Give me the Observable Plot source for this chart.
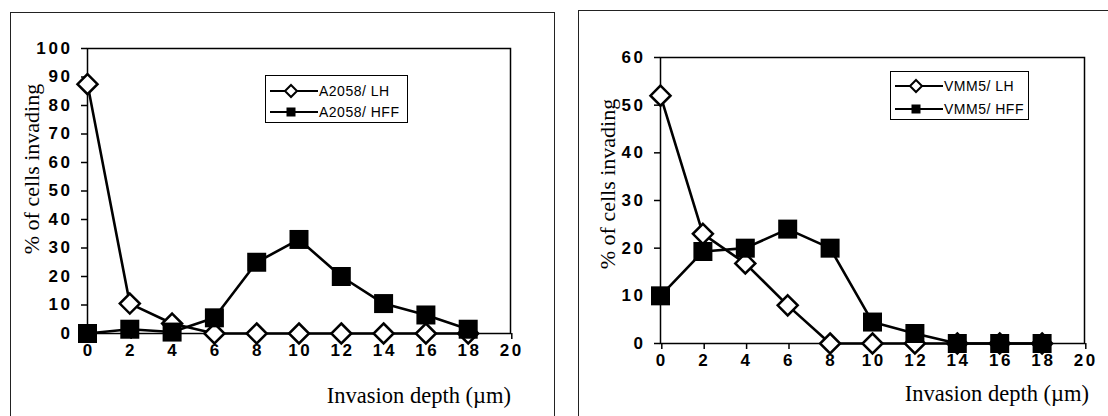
<!DOCTYPE html>
<html>
<head>
<meta charset="utf-8">
<script src="https://cdn.jsdelivr.net/npm/d3@7"></script>
<script src="https://cdn.jsdelivr.net/npm/@observablehq/plot@0.6"></script>
<style>
  html, body { margin: 0; padding: 0; background: #fff; overflow: hidden; }
  #page { position: relative; width: 1108px; height: 416px; overflow: hidden; background: #fff; }
  .box { position: absolute; border: 1.5px solid #222; border-bottom: none; box-sizing: border-box; }
  .holder { position: absolute; }
  .holder svg text { letter-spacing: 2.6px; }
  .ylab { position: absolute; font-family: "Liberation Serif", "Times New Roman", serif; font-size: 22px; color: #000;
          white-space: nowrap; transform: translate(-50%, -50%) rotate(-90deg); }
  .xlab { position: absolute; font-family: "Liberation Serif", "Times New Roman", serif; font-size: 22.5px; color: #000;
          white-space: nowrap; transform: translate(-100%, -50%); }
  .legend { position: absolute; border: 1.2px solid #000; background: #fff; box-sizing: border-box; }
  .lrow { position: absolute; left: 4px; display: flex; align-items: center; transform: translateY(-50%);
          font-family: "Liberation Sans", Arial, sans-serif; font-size: 14px; letter-spacing: 0.5px; color: #000; white-space: nowrap; }
  .lrow svg { display: block; margin-right: 1px; }
</style>
</head>
<body>
<div id="page"></div>
<script>
// ---- data ----
const depth = [0, 2, 4, 6, 8, 10, 12, 14, 16, 18];
const a2058LH  = [87.5, 10.5, 3.5, 0, 0, 0, 0, 0, 0, 0];
const a2058HFF = [0, 1.5, 0.5, 5.5, 25, 33, 20, 10.5, 6.5, 1.5];
const vmm5LH   = [52, 23, 16.8, 8, 0, 0, 0, 0, 0, 0];
const vmm5HFF  = [10, 19.3, 20, 24, 20, 4.5, 2.1, 0, 0, 0];
const xTicks = [0, 2, 4, 6, 8, 10, 12, 14, 16, 18, 20];
const yTicksLeft = [0, 10, 20, 30, 40, 50, 60, 70, 80, 90, 100];
const yTicksRight = [0, 10, 20, 30, 40, 50, 60];
const seriesLeft = ["A2058/ LH", "A2058/ HFF"];
const seriesRight = ["VMM5/ LH", "VMM5/ HFF"];
const xLabel = "Invasion depth (\u00b5m)";
const yLabel = "% of cells invading";

// custom symbols
const diamond = { draw(ctx, size) { const r = Math.sqrt(size / Math.PI); ctx.moveTo(0, -r); ctx.lineTo(r, 0); ctx.lineTo(0, r); ctx.lineTo(-r, 0); ctx.closePath(); } };
const square = { draw(ctx, size) { const r = Math.sqrt(size / Math.PI); ctx.rect(-r, -r, 2 * r, 2 * r); } };

function panel({ LH, HFF, yTicks, yMax, width, height, ml, mr, mt, mb }) {
  const lh = depth.map((d, i) => ({ x: d, y: LH[i] }));
  const hff = depth.map((d, i) => ({ x: d, y: HFF[i] }));
  const font = { fontSize: 17, fontWeight: "bold", fontFamily: "'Liberation Sans', Arial, sans-serif", fill: "#000" };
  return Plot.plot({
    width, height,
    marginLeft: ml, marginRight: mr, marginTop: mt, marginBottom: mb,
    style: { fontFamily: "'Liberation Sans', Arial, sans-serif", color: "#000", background: "transparent", overflow: "visible" },
    x: { domain: [0, 20] },
    y: { domain: [0, yMax] },
    marks: [
      Plot.frame({ stroke: "#000", strokeWidth: 1.5 }),
      Plot.axisX({ ticks: xTicks, tickSize: 6, tickPadding: 4, label: null, strokeWidth: 1.5, dx: 1.3, tickFormat: d => d, ...font }),
      Plot.axisY({ ticks: yTicks, tickSize: 6, tickPadding: 9, label: null, strokeWidth: 1.5, tickFormat: d => d, ...font }),
      Plot.line(lh, { x: "x", y: "y", stroke: "#000", strokeWidth: 2.6 }),
      Plot.line(hff, { x: "x", y: "y", stroke: "#000", strokeWidth: 2.6 }),
      Plot.dot(lh, { x: "x", y: "y", symbol: diamond, r: 10, fill: "#fff", stroke: "#000", strokeWidth: 2.5 }),
      Plot.dot(hff, { x: "x", y: "y", symbol: square, r: 9.5, fill: "#000", stroke: "none" })
    ]
  });
}

const page = document.getElementById("page");
function add(el, css) { Object.assign(el.style, css); page.appendChild(el); return el; }

// panel boxes
const b1 = document.createElement("div"); b1.className = "box"; add(b1, { left: "10px", top: "12px", width: "545px", height: "430px" });
const b2 = document.createElement("div"); b2.className = "box"; add(b2, { left: "578px", top: "10px", width: "560px", height: "430px" });

// plots
const p1 = panel({ LH: a2058LH, HFF: a2058HFF, yTicks: yTicksLeft, yMax: 100, width: 543, height: 400, ml: 76, mr: 44, mt: 34, mb: 81 });
const h1 = document.createElement("div"); h1.className = "holder"; h1.appendChild(p1); add(h1, { left: "11px", top: "14px" });
const p2 = panel({ LH: vmm5LH, HFF: vmm5HFF, yTicks: yTicksRight, yMax: 60, width: 528, height: 400, ml: 80, mr: 24, mt: 45, mb: 69 });
const h2 = document.createElement("div"); h2.className = "holder"; h2.appendChild(p2); add(h2, { left: "580px", top: "12px" });

// axis titles
function text(cls, str, x, y) { const d = document.createElement("div"); d.className = cls; d.textContent = str; add(d, { left: x + "px", top: y + "px" }); }
text("ylab", yLabel, 32, 169);
text("ylab", yLabel, 608, 184);
text("xlab", xLabel, 511, 396);
text("xlab", xLabel, 1089, 394);

// legends
function legend(names, left, top, w, h, rows) {
  const lg = document.createElement("div"); lg.className = "legend";
  add(lg, { left: left + "px", top: top + "px", width: w + "px", height: h + "px" });
  const syms = [
    '<svg width="48" height="16"><line x1="0" y1="8" x2="48" y2="8" stroke="#000" stroke-width="2"/><path d="M21,2 L27,8 L21,14 L15,8 Z" fill="#fff" stroke="#000" stroke-width="2"/></svg>',
    '<svg width="48" height="16"><line x1="0" y1="8" x2="48" y2="8" stroke="#000" stroke-width="2"/><rect x="16.5" y="3.5" width="9" height="9" fill="#000"/></svg>'
  ];
  names.forEach((n, i) => {
    const r = document.createElement("div"); r.className = "lrow";
    r.innerHTML = syms[i] + "<span>" + n + "</span>";
    r.style.top = rows[i] + "px";
    lg.appendChild(r);
  });
}
legend(seriesLeft, 265, 75, 143, 48, [15, 36]);
legend(seriesRight, 890, 71, 139, 49, [14, 37]);
</script>
</body>
</html>
